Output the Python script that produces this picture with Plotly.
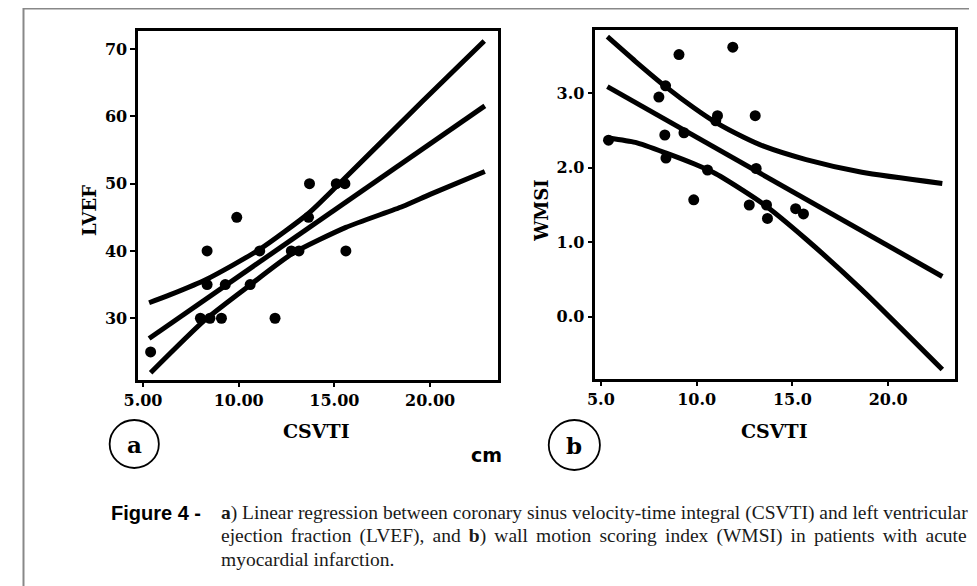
import plotly.graph_objects as go

# page body adds an 8 px margin; the figure is drawn 8 px in from the window edge
OFF = 8
W, H = 977 - OFF, 586 - OFF

# ---------------- Panel a: CSVTI vs LVEF ----------------
a_x = [5.4, 8.0, 8.5, 9.1, 11.9, 8.35, 9.3, 10.6, 8.35, 11.1, 12.75, 13.15, 15.6, 9.9, 13.65, 13.7, 15.1, 15.55]
a_y = [25, 30, 30, 30, 30, 35, 35, 35, 40, 40, 40, 40, 40, 45, 45, 50, 50, 50]
a_fit_x = [5.32, 22.86]
a_fit_y = [27.0, 61.55]
a_up_x = [5.32, 6.43, 8.33, 11.08, 13.66, 15.12, 19.59, 22.83]
a_up_y = [32.3, 33.5, 35.8, 40.2, 45.6, 49.6, 62.2, 71.2]
a_lo_x = [5.4, 8.24, 10.62, 12.8, 15.6, 18.56, 20.0, 22.86]
a_lo_y = [21.9, 29.75, 35.0, 39.6, 43.5, 46.6, 48.4, 51.8]
a_xticks = [5, 10, 15, 20]
a_yticks = [30, 40, 50, 60, 70]

# ---------------- Panel b: CSVTI vs WMSI ----------------
b_x = [5.4, 9.08, 11.89, 8.38, 8.03, 8.34, 8.40, 9.34, 11.09, 11.0, 13.06, 10.57, 9.85, 13.11, 12.75, 13.65, 13.7, 15.17, 15.58]
b_y = [2.37, 3.52, 3.62, 3.10, 2.95, 2.44, 2.13, 2.47, 2.70, 2.63, 2.70, 1.97, 1.57, 1.99, 1.50, 1.50, 1.32, 1.45, 1.38]
b_fit_x = [5.34, 22.83]
b_fit_y = [3.09, 0.54]
b_up_x = [5.34, 6.80, 8.38, 9.89, 11.0, 12.46, 13.5, 15.72, 18.63, 22.83]
b_up_y = [3.76, 3.43, 3.09, 2.80, 2.61, 2.41, 2.29, 2.11, 1.94, 1.79]
b_lo_x = [5.40, 6.8, 8.38, 9.89, 11.0, 12.46, 13.5, 15.72, 18.63, 22.83]
b_lo_y = [2.40, 2.34, 2.20, 2.05, 1.92, 1.69, 1.51, 1.04, 0.36, -0.71]
b_xticks = [5, 10, 15, 20]
b_yticks = [0, 1, 2, 3]

caption_lines = [
    "<b>a</b>) Linear regression between coronary sinus velocity-time integral (CSVTI) and left ventricular",
    "ejection fraction (LVEF), and <b>b</b>) wall motion scoring index (WMSI) in patients with acute",
    "myocardial infarction.",
]
# extra inter-word spacing to imitate the justified caption
caption_gap = ["", "\u200a\u200a", ""]

def px(x):
    return (x - OFF) / W

def py(y):
    return 1 - (y - OFF) / H

fig = go.Figure()
LW = 5
for (xs, ys, xa, ya) in [
    (a_fit_x, a_fit_y, "x", "y"), (a_up_x, a_up_y, "x", "y"), (a_lo_x, a_lo_y, "x", "y"),
    (b_fit_x, b_fit_y, "x2", "y2"), (b_up_x, b_up_y, "x2", "y2"), (b_lo_x, b_lo_y, "x2", "y2"),
]:
    fig.add_trace(go.Scatter(x=xs, y=ys, xaxis=xa, yaxis=ya, mode="lines",
                             line=dict(color="black", width=LW, shape="spline", smoothing=0.6),
                             hoverinfo="skip", showlegend=False))
fig.add_trace(go.Scatter(x=a_x, y=a_y, mode="markers", xaxis="x", yaxis="y",
                         marker=dict(color="black", size=11), showlegend=False))
fig.add_trace(go.Scatter(x=b_x, y=b_y, mode="markers", xaxis="x2", yaxis="y2",
                         marker=dict(color="black", size=11), showlegend=False))

tickfont = dict(family="DejaVu Serif", size=16, color="black", weight="bold")
axcommon = dict(showline=True, mirror=True, linecolor="black", linewidth=2.5,
                ticks="outside", ticklen=5, tickwidth=2, tickcolor="black",
                showgrid=False, zeroline=False, tickfont=tickfont, fixedrange=True)

fig.update_layout(
    width=W, height=H, autosize=False,
    margin=dict(l=0, r=0, t=0, b=0),
    paper_bgcolor="white", plot_bgcolor="white",
    xaxis=dict(domain=[px(125), px(490.7)], range=[4.75, 23.56], tickvals=a_xticks,
               tickformat=".2f", anchor="y", **axcommon),
    yaxis=dict(domain=[py(379.5), py(30.5)], range=[20.9, 72.75], tickvals=a_yticks,
               tickformat="d", anchor="x", **axcommon),
    xaxis2=dict(domain=[px(589.3), px(955)], range=[4.71, 23.51], tickvals=b_xticks,
                tickformat=".1f", anchor="y2", **axcommon),
    yaxis2=dict(domain=[py(378.5), py(30)], range=[-0.83, 3.85], tickvals=b_yticks,
                tickformat=".1f", anchor="x2", **axcommon),
)

titlefont = dict(family="DejaVu Serif", size=18, color="black", weight="bold")
ann = []
ann.append(dict(x=px(75), y=py(210), text="LVEF", textangle=-90, font=titlefont))
ann.append(dict(x=px(534), y=py(210), text="WMSI", textangle=-90, font=titlefont))
ann.append(dict(x=px(306), y=py(431), text="CSVTI", font=dict(titlefont, size=19)))
ann.append(dict(x=px(771), y=py(431), text="CSVTI", font=dict(titlefont, size=19)))
ann.append(dict(x=px(479), y=py(455), text="cm",
                font=dict(family="DejaVu Sans", size=19, color="black", weight="bold")))
ann.append(dict(x=px(121), y=py(444), text="a",
                font=dict(family="DejaVu Serif", size=23, color="black", weight="bold")))
ann.append(dict(x=px(568), y=py(445), text="b",
                font=dict(family="DejaVu Serif", size=23, color="black", weight="bold")))
ann.append(dict(x=px(95), y=py(513), text="Figure 4 -", xanchor="left",
                font=dict(family="Liberation Sans", size=20, color="black", weight="bold")))
for i, line in enumerate(caption_lines):
    txt = line.replace(" ", " " + caption_gap[i]) if caption_gap[i] else line
    ann.append(dict(x=px(207), y=py(513 + 23 * i), text=txt, xanchor="left",
                    font=dict(family="Liberation Serif", size=19.5, color="#1a1a1a")))
for a in ann:
    a.update(xref="paper", yref="paper", showarrow=False)
    a.setdefault("xanchor", "center")
    a.setdefault("yanchor", "middle")
fig.update_layout(annotations=ann)

shapes = [
    dict(type="line", x0=0.001, x1=1, y0=1 - 0.5 / H, y1=1 - 0.5 / H, line=dict(color="#888", width=2)),
    dict(type="line", x0=0.5 / W, x1=0.5 / W, y0=1, y1=0, line=dict(color="#888", width=2)),
    dict(type="circle", x0=px(96), x1=px(146), y0=py(468), y1=py(420), line=dict(color="black", width=1.8)),
    dict(type="circle", x0=px(542), x1=px(594), y0=py(470), y1=py(420), line=dict(color="black", width=1.8)),
]
for s in shapes:
    s.update(xref="paper", yref="paper")
fig.update_layout(shapes=shapes)

fig.write_html("out.html")
